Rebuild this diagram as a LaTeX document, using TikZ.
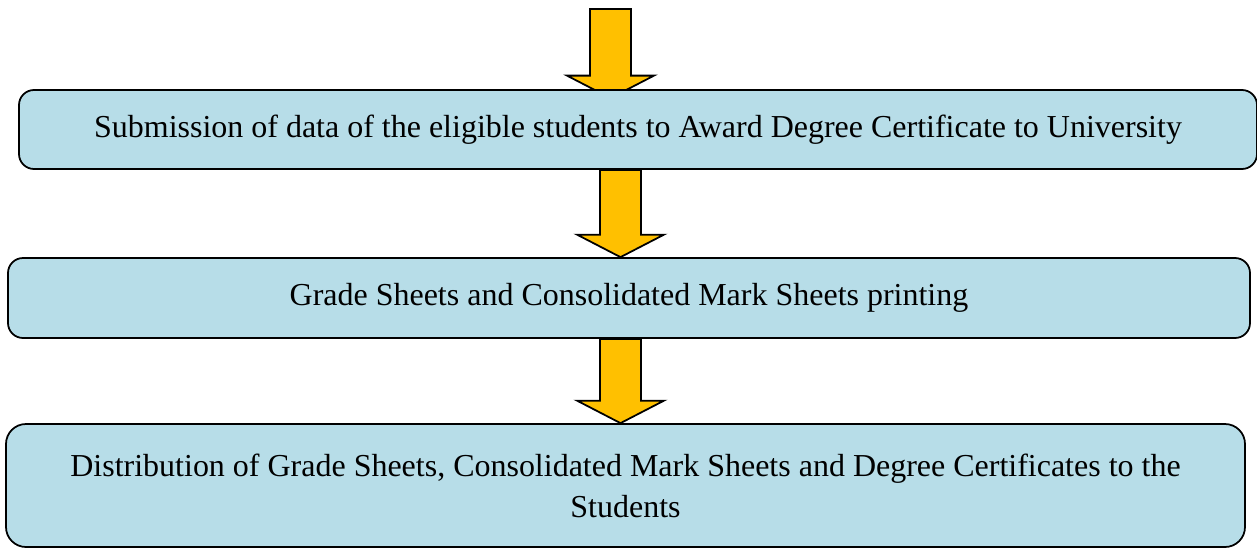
\documentclass[tikz,border=0pt]{standalone}
\usepackage{fontspec}
\setmainfont{Liberation Serif}
\usepackage{xcolor}
\usetikzlibrary{calc,backgrounds}
\definecolor{boxblue}{RGB}{183,221,232}
\definecolor{arrowgold}{RGB}{255,192,0}
\tikzset{
    stepbox/.style={draw=black,line width=1pt,fill=boxblue,rounded corners=0.3cm,
        inner sep=0pt,align=center,font=\fontsize{18.2}{23.3}\selectfont},
    flowarrow/.style={draw=black,line width=1pt,fill=arrowgold,line join=miter}
}
\newcommand{\flowarrow}[2]{%
    \draw[flowarrow] ($(#1)+(-0.41,0)$) -- ($(#2)+(-0.41,0.45)$) -- ($(#2)+(-0.87,0.45)$)
        -- (#2) -- ($(#2)+(0.87,0.45)$) -- ($(#2)+(0.41,0.45)$) -- ($(#1)+(0.41,0)$) -- cycle;}

\begin{document}
\begin{tikzpicture}
        \useasboundingbox (0,0) rectangle (25.14,-10.96);
        \node[stepbox,minimum width=24.76cm,minimum height=1.58cm] (submit) at (12.76,-2.59)
            {Submission of data of the eligible students to Award Degree Certificate to University};
        \node[stepbox,minimum width=24.84cm,minimum height=1.6cm] (print) at (12.58,-5.96)
            {Grade Sheets and Consolidated Mark Sheets printing};
        \node[stepbox,rounded corners=0.4cm,minimum width=24.78cm,minimum height=2.46cm] (distribute) at (12.51,-9.71)
            {Distribution of Grade Sheets, Consolidated Mark Sheets and Degree Certificates to the\\Students};
        \coordinate (axisA) at (12.21,0);
        \coordinate (axisB) at (12.41,0);
        \coordinate (startA) at (12.21,-0.18);
        \coordinate (tipA) at ($(axisA |- submit.north)+(0,-0.18)$);
        \coordinate (startB) at (axisB |- submit.south);
        \coordinate (tipB) at (axisB |- print.north);
        \coordinate (startC) at (axisB |- print.south);
        \coordinate (tipC) at (axisB |- distribute.north);
        \begin{scope}[on background layer]
            \flowarrow{startA}{tipA}
            \flowarrow{startB}{tipB}
            \flowarrow{startC}{tipC}
        \end{scope}
    \end{tikzpicture}
\end{document}
